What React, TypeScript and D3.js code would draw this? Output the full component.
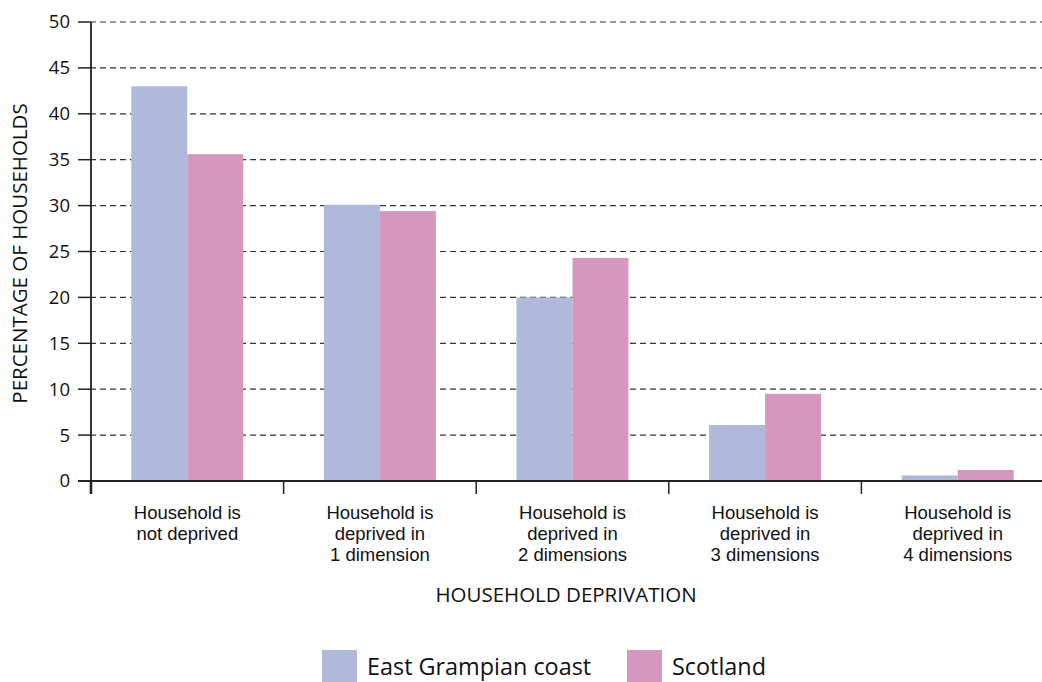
import React from "react";
import * as d3 from "d3";

const categories = [
  ["Household is", "not deprived"],
  ["Household is", "deprived in", "1 dimension"],
  ["Household is", "deprived in", "2 dimensions"],
  ["Household is", "deprived in", "3 dimensions"],
  ["Household is", "deprived in", "4 dimensions"],
];
const seriesNames = ["East Grampian coast", "Scotland"];
const eastGrampian = [43.0, 30.1, 20.0, 6.1, 0.6];
const scotland = [35.6, 29.4, 24.3, 9.5, 1.2];
const yTicks = [0, 5, 10, 15, 20, 25, 30, 35, 40, 45, 50];
const colors = ["#b0b9da", "#d597bd"];

export default function App() {
  const W = 1042, H = 682;
  const left = 91, right = 1054, top = 22, bottom = 481;
  const x = d3.scaleBand<number>().domain(d3.range(categories.length)).range([left, right]).paddingInner(0).paddingOuter(0);
  const y = d3.scaleLinear().domain([0, 50]).range([bottom, top]);
  const barW = 56;
  const font = "'Open Sans', 'Noto Sans', sans-serif";
  const series = [eastGrampian, scotland];
  return (
    <svg width={W} height={H} style={{ position: "absolute", left: 0, top: 0 }} fontFamily={font}>
      {yTicks.map((t) => (
        <g key={t}>
          {t > 0 && (
            <line x1={left} x2={W} y1={y(t)} y2={y(t)} stroke="#333" strokeWidth={1.2} strokeDasharray="6,4" strokeDashoffset={-9} />
          )}
          <line x1={78} x2={left} y1={y(t)} y2={y(t)} stroke="#222" strokeWidth={1.5} />
          <text x={70} y={y(t)} dy="0.35em" textAnchor="end" fontSize={18.5} fill="#111">{t}</text>
        </g>
      ))}
      {series.map((vals, si) =>
        vals.map((v, i) => {
          const cx = x(i)! + x.bandwidth() / 2;
          return (
            <rect key={`${si}-${i}`} x={cx - barW + si * barW} y={y(v)} width={barW} height={y(0) - y(v)} fill={colors[si]} />
          );
        })
      )}
      <line x1={left} x2={left} y1={top} y2={494} stroke="#222" strokeWidth={1.8} />
      <line x1={78} x2={W} y1={bottom} y2={bottom} stroke="#222" strokeWidth={1.8} />
      {categories.map((_, i) => (
        <line key={i} x1={x(i)!} x2={x(i)!} y1={bottom} y2={494} stroke="#222" strokeWidth={i === 0 ? 2.5 : 1.5} />
      ))}
      {categories.map((lines, i) =>
        lines.map((l, j) => (
          <text key={`${i}-${j}`} x={x(i)! + x.bandwidth() / 2} y={519 + j * 21} textAnchor="middle" fontSize={18.5}
            fontFamily="'Liberation Sans', Arial, sans-serif" fill="#111">{l}</text>
        ))
      )}
      <text x={566} y={602} textAnchor="middle" fontSize={20.5} fill="#111">HOUSEHOLD DEPRIVATION</text>
      <text transform={`translate(27,${(top + bottom) / 2 + 2}) rotate(-90)`} textAnchor="middle" fontSize={20.5} fill="#111">PERCENTAGE OF HOUSEHOLDS</text>
      {[322, 627].map((lx, i) => (
        <g key={i}>
          <rect x={lx} y={650} width={35} height={32} fill={colors[i]} />
          <text x={lx + 45} y={675} fontSize={23.4} fill="#111">{seriesNames[i]}</text>
        </g>
      ))}
    </svg>
  );
}
